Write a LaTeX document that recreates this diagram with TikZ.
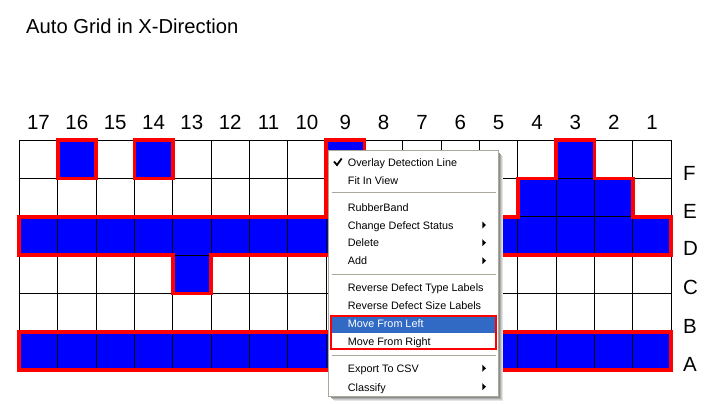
\documentclass[tikz,border=0pt]{standalone}
\usepackage{fontspec}
\setmainfont{Liberation Sans}
\definecolor{cellblue}{RGB}{0,0,255}
\definecolor{outlinered}{RGB}{255,0,0}
\definecolor{menuborder}{RGB}{172,168,153}
\definecolor{menuhl}{RGB}{49,106,197}
\begin{document}
\begin{tikzpicture}[x=1pt,y=-1pt,
  titletext/.style={font=\fontsize{20.2}{24}\selectfont, inner sep=0pt, anchor=base west},
  coltext/.style={font=\fontsize{20.5}{24}\selectfont, inner sep=0pt, anchor=base},
  rowtext/.style={font=\fontsize{20.5}{24}\selectfont, inner sep=0pt, anchor=base west},
  menutext/.style={font=\fontsize{10.8}{13}\selectfont, inner sep=0pt, anchor=base west},
  redoutline/.style={draw=outlinered, line width=3.7pt, line join=miter},
  gridline/.style={draw=black, line width=1pt},
  sepline/.style={draw=menuborder, line width=1pt},
  subarrow/.style={fill=black}
]
\useasboundingbox (0,0) rectangle (710,404);
\fill[white] (0,0) rectangle (710,404);

\node[titletext] (title) at (26,33.3) {Auto Grid in X-Direction};

% grid
\begin{scope}[xshift=19.3pt, yshift=-140pt, x=38.35pt, y=-38.35pt]
  \fill[cellblue] (1,0) rectangle (2,1);
  \fill[cellblue] (3,0) rectangle (4,1);
  \fill[cellblue] (0,2) -- (8,2) -- (8,0) -- (9,0) -- (9,2) -- (13,2) -- (13,1) -- (14,1) -- (14,0) -- (15,0) -- (15,1) -- (16,1) -- (16,2) -- (17,2) -- (17,3) -- (5,3) -- (5,4) -- (4,4) -- (4,3) -- (0,3) -- cycle;
  \fill[cellblue] (0,5) rectangle (17,6);
  \foreach \c in {0,...,17}{ \draw[gridline] (\c,0) -- (\c,6); }
  \foreach \r in {0,...,6}{ \draw[gridline] (0,\r) -- (17,\r); }
  \draw[redoutline] (1,0) rectangle (2,1);
  \draw[redoutline] (3,0) rectangle (4,1);
  \draw[redoutline] (0,2) -- (8,2) -- (8,0) -- (9,0) -- (9,2) -- (13,2) -- (13,1) -- (14,1) -- (14,0) -- (15,0) -- (15,1) -- (16,1) -- (16,2) -- (17,2) -- (17,3) -- (5,3) -- (5,4) -- (4,4) -- (4,3) -- (0,3) -- cycle;
  \draw[redoutline] (0,5) rectangle (17,6);
\end{scope}

% column numbers
\foreach \i in {1,...,17}{
  \pgfmathsetmacro{\cx}{19.3+(17-\i+0.5)*38.35}
  \node[coltext] (col\i) at (\cx,129.3) {\i};
}
% row labels
\node[rowtext] (rowF) at (683,180) {F};
\node[rowtext] (rowE) at (683,218.3) {E};
\node[rowtext] (rowD) at (683,255.6) {D};
\node[rowtext] (rowC) at (683,294.5) {C};
\node[rowtext] (rowB) at (683,333) {B};
\node[rowtext] (rowA) at (683,371.5) {A};

% context menu shadow
\foreach \k/\c in {1/45,2/32,3/20,4/10}{
  \draw[black!\c, line width=1pt] (498.3+\k,150+\k+2) -- (498.3+\k,396.7+\k) -- (328.3+\k+2,396.7+\k);
}
% context menu
\filldraw[fill=white, draw=menuborder, line width=1pt] (328.3,150) rectangle (498.3,396.7);
\fill[menuhl] (331.7,316.5) rectangle (495.5,332.5);
\draw[draw=outlinered, line width=2pt] (331,316) rectangle (496,349);
\draw[sepline] (331.5,192) -- (495.5,192);
\draw[sepline] (331.5,274) -- (495.5,274);
\draw[sepline] (331.5,355) -- (495.5,355);

\draw[black, line width=1.8pt, line cap=butt, line join=miter] (334,161.5) -- (337,165) -- (341.7,158.5);

\node[menutext] (m1) at (347.7,166) {Overlay Detection Line};
\node[menutext] (m2) at (347.7,184) {Fit In View};
\node[menutext] (m3) at (347.7,211.3) {RubberBand};
\node[menutext] (m4) at (347.7,229) {Change Defect Status};
\node[menutext] (m5) at (347.7,246.7) {Delete};
\node[menutext] (m6) at (347.7,264.7) {Add};
\node[menutext] (m7) at (347.7,291.8) {Reverse Defect Type Labels};
\node[menutext] (m8) at (347.7,309.8) {Reverse Defect Size Labels};
\node[menutext, text=white] (m9) at (347.7,327.7) {Move From Left};
\node[menutext] (m10) at (347.7,345.8) {Move From Right};
\node[menutext] (m11) at (347.7,372.7) {Export To CSV};
\node[menutext] (m12) at (347.7,391) {Classify};

\foreach \cy in {225,242.7,260.7,368.3,386.7}{
  \fill[subarrow] (482.3,\cy-3.5) -- (486,\cy) -- (482.3,\cy+3.5) -- cycle;
}
\end{tikzpicture}
\end{document}
